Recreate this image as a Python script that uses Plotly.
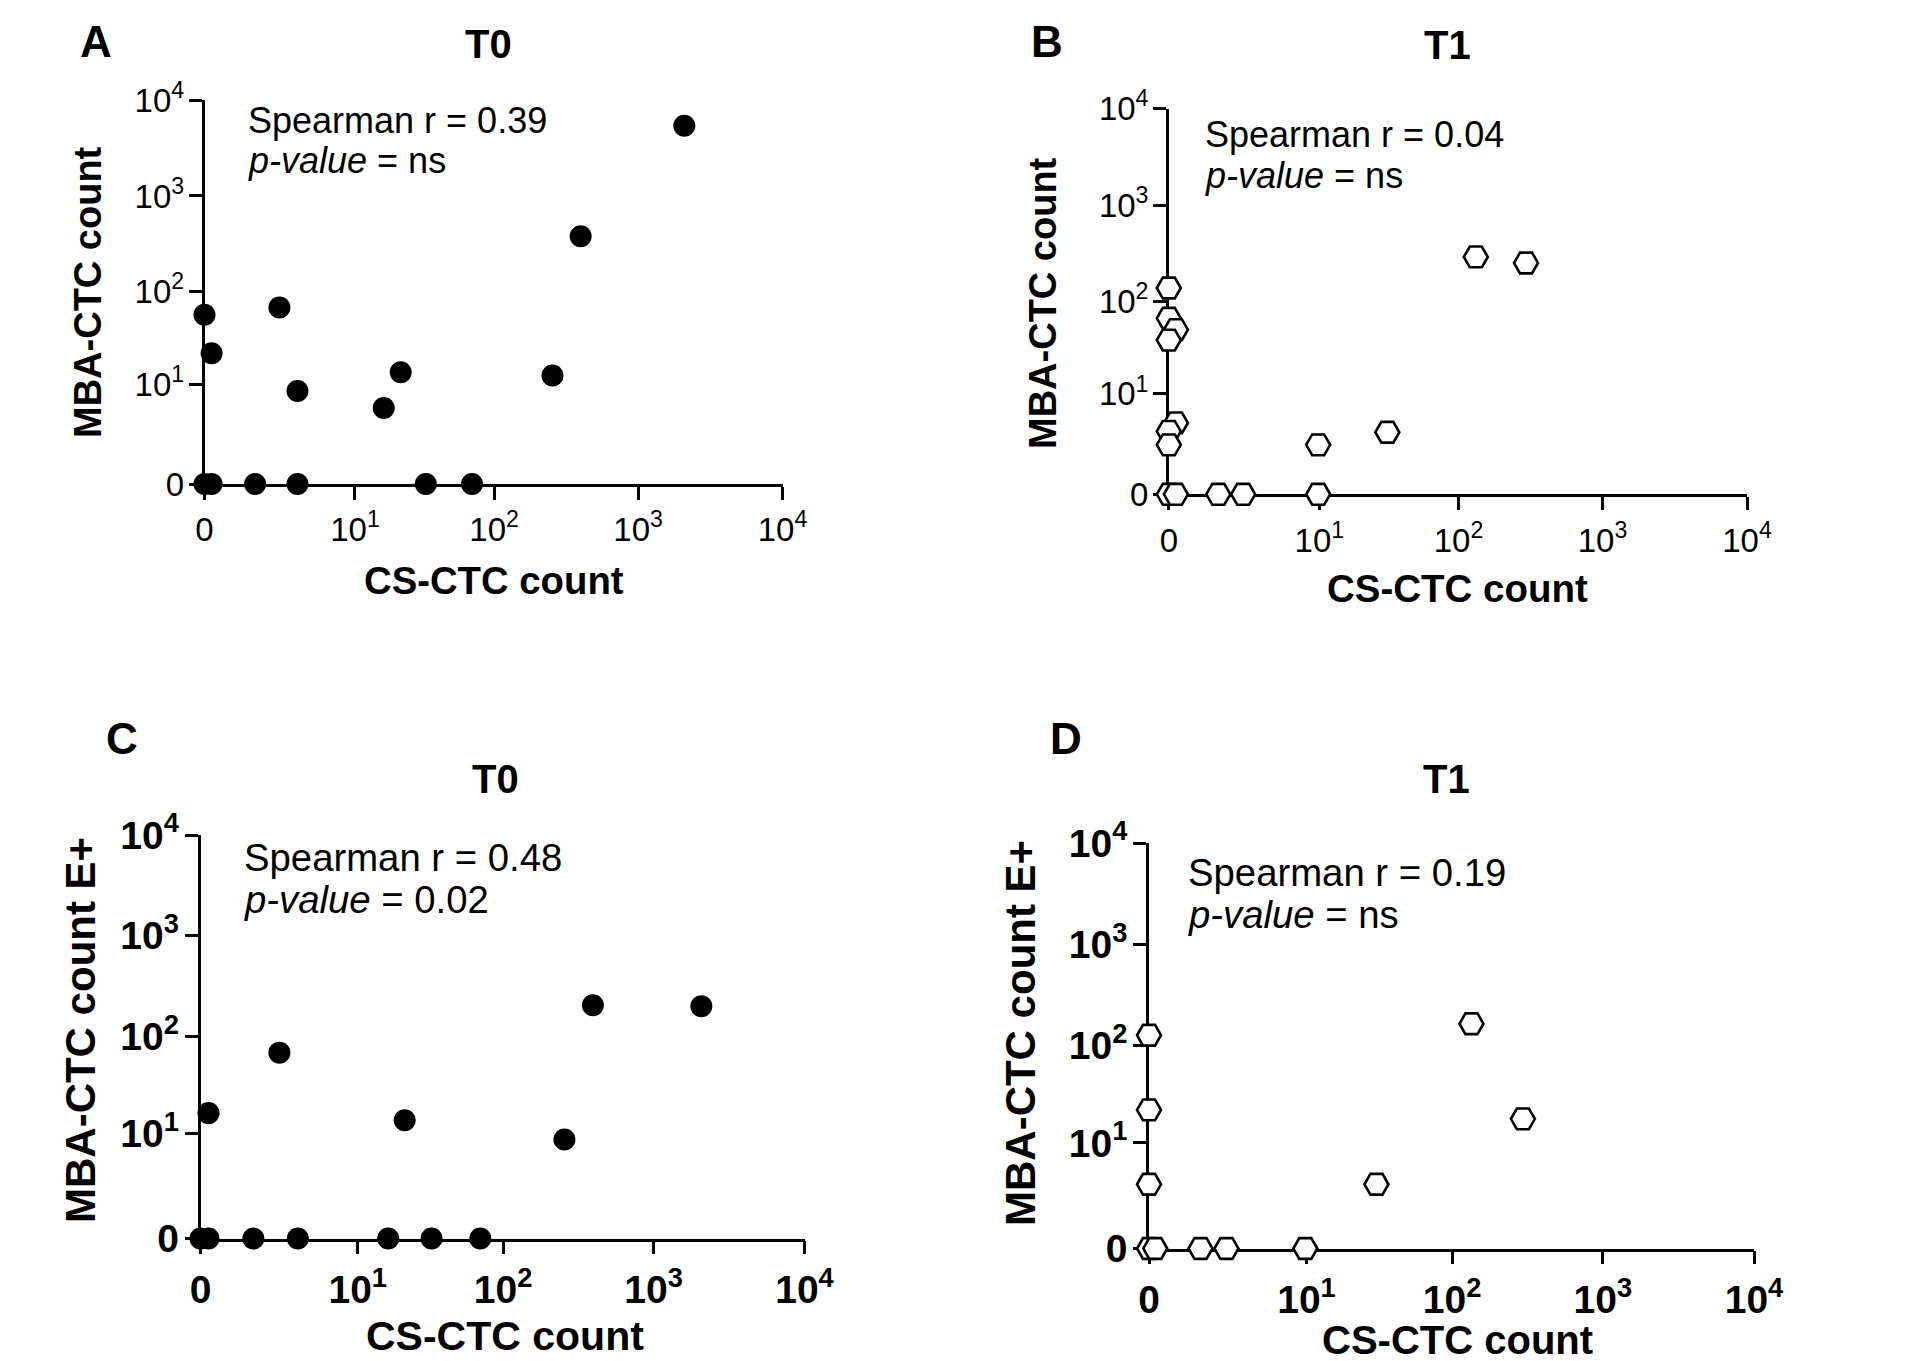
import numpy as np
import plotly.graph_objects as go

W, H = 1909, 1361

# ---------------- data (counts) ----------------
A_cs = [2090, 400, 2.3, 0, 0.12, 3.4, 21.8, 16.4, 255, 0, 0.12, 1.24, 3.4, 33, 70]
A_mba = [5390, 380, 68, 57, 22, 8.3, 13.6, 5.2, 12.5, 0, 0, 0, 0, 0, 0]

B_cs = [132, 295, 0, 0, 0.12, 0, 0.12, 0, 0, 9.8, 31.5, 0, 0.12, 1.2, 2.27, 9.8]
B_mba = [289, 250, 137, 66, 50, 38.8, 4.5, 3.5, 2.26, 2.26, 3.4, 0, 0, 0, 0, 0]

C_cs = [396, 2074, 2.33, 0.13, 21.5, 256, 0, 0.13, 1.24, 3.41, 16.5, 32.9, 70.3]
C_mba = [204, 200, 68.6, 16.5, 13.9, 8.6, 0, 0, 0, 0, 0, 0, 0]

D_cs = [134.5, 295.5, 30.9, 0, 0, 0, 0, 0.1, 1.19, 2.25, 9.8]
D_mba = [163.8, 18, 3.3, 126, 22.3, 3.3, 0, 0, 0, 0, 0]

tick_values = [0, 10, 100, 1000, 10000]
tick_labels = ["0", "10<sup>1</sup>", "10<sup>2</sup>", "10<sup>3</sup>", "10<sup>4</sup>"]

panel_letters = ["A", "B", "C", "D"]
panel_titles = ["T0", "T1", "T0", "T1"]
x_titles = ["CS-CTC count"] * 4
y_titles = ["MBA-CTC count", "MBA-CTC count", "MBA-CTC count E+", "MBA-CTC count E+"]
r_texts = ["Spearman r = 0.39", "Spearman r = 0.04", "Spearman r = 0.48", "Spearman r = 0.19"]
p_texts = ["<i>p-value</i> = ns", "<i>p-value</i> = ns", "<i>p-value</i> = 0.02", "<i>p-value</i> = ns"]


def tr(v):
    # log10(count + 1) axis transform (zero shown on log-like axis)
    return np.log10(np.asarray(v, dtype=float) + 1.0)


FONT = "Arial, Liberation Sans, sans-serif"

# ---------------- layout geometry (pixels) ----------------
# (x0, x1, ytop, ybottom)
boxes = [
    (204.5, 782.5, 100.0, 484.0),
    (1168.8, 1747.0, 108.7, 494.3),
    (200.5, 804.5, 835.0, 1238.5),
    (1149.0, 1754.0, 843.0, 1248.5),
]
letter_pos = [(96, 41), (1047, 41), (122, 739), (1066, 739)]
title_pos = [(488, 44), (1447, 45), (495, 779), (1446, 779)]
xtitle_pos = [(494, 580), (1457, 588), (505, 1336), (1457, 1340)]
ytitle_pos = [(88, 292), (1043, 303), (80, 1030), (1020, 1033)]
ann_pos = [(245.5, 120, 161), (1202.5, 135, 176), (241.5, 857, 899), (1185.5, 873, 914)]

tick_font_size = [33, 33, 39, 39]
tick_bold = [False, False, True, True]
ann_size = [36, 36, 38.3, 38.3]
axtitle_size = [38.3, 38.5, 41, 40]
ytitle_size = [38, 38, 42, 42]

datasets = [(A_cs, A_mba), (B_cs, B_mba), (C_cs, C_mba), (D_cs, D_mba)]
filled = [True, False, True, False]

fig = go.Figure()
layout = dict(
    width=W, height=H,
    margin=dict(l=0, r=0, t=0, b=0, pad=0, autoexpand=False),
    paper_bgcolor="white", plot_bgcolor="white",
    showlegend=False,
    annotations=[],
)

rng = [0, float(tr(10000))]
tvals = [float(v) for v in tr(tick_values)]

for i in range(4):
    x0, x1, yt, yb = boxes[i]
    xa = "xaxis" if i == 0 else f"xaxis{i+1}"
    ya = "yaxis" if i == 0 else f"yaxis{i+1}"
    xr = "x" if i == 0 else f"x{i+1}"
    yr = "y" if i == 0 else f"y{i+1}"
    tf = dict(family=FONT, size=tick_font_size[i], color="black",
              weight="bold" if tick_bold[i] else "normal")
    common = dict(
        range=rng, tickmode="array", tickvals=tvals, ticktext=tick_labels,
        showline=True, linecolor="black", linewidth=2.5,
        ticks="outside", ticklen=13, tickwidth=2.5, tickcolor="black",
        showgrid=False, zeroline=False, tickfont=tf, layer="below traces",
        fixedrange=True, automargin=False,
    )
    layout[xa] = dict(common, domain=[x0 / W, x1 / W], anchor=yr, ticklabelstandoff=2)
    layout[ya] = dict(common, domain=[1 - yb / H, 1 - yt / H], anchor=xr, ticklabelstandoff=-2)

    cs, mba = datasets[i]
    if filled[i]:
        marker = dict(symbol="circle", size=22, color="black",
                      line=dict(color="black", width=0))
    else:
        marker = dict(symbol="hexagon2", size=24, color="white",
                      line=dict(color="black", width=2.6))
    fig.add_trace(go.Scatter(
        x=tr(cs), y=tr(mba), mode="markers", marker=marker,
        xaxis=xr, yaxis=yr, cliponaxis=False, hoverinfo="skip",
    ))

    ann = layout["annotations"]
    lx, ly = letter_pos[i]
    ann.append(dict(text=f"<b>{panel_letters[i]}</b>", x=lx / W, y=1 - ly / H,
                    xref="paper", yref="paper", showarrow=False,
                    xanchor="center", yanchor="middle",
                    font=dict(family=FONT, size=44, color="black")))
    tx, ty = title_pos[i]
    ann.append(dict(text=f"<b>{panel_titles[i]}</b>", x=tx / W, y=1 - ty / H,
                    xref="paper", yref="paper", showarrow=False,
                    xanchor="center", yanchor="middle",
                    font=dict(family=FONT, size=40, color="black")))
    xx, xy = xtitle_pos[i]
    ann.append(dict(text=f"<b>{x_titles[i]}</b>", x=xx / W, y=1 - xy / H,
                    xref="paper", yref="paper", showarrow=False,
                    xanchor="center", yanchor="middle",
                    font=dict(family=FONT, size=axtitle_size[i], color="black")))
    yx, yy = ytitle_pos[i]
    ann.append(dict(text=f"<b>{y_titles[i]}</b>", x=yx / W, y=1 - yy / H,
                    xref="paper", yref="paper", showarrow=False, textangle=-90,
                    xanchor="center", yanchor="middle",
                    font=dict(family=FONT, size=ytitle_size[i], color="black")))
    ax, ay1, ay2 = ann_pos[i]
    ann.append(dict(text=r_texts[i], x=ax / W, y=1 - ay1 / H,
                    xref="paper", yref="paper", showarrow=False,
                    xanchor="left", yanchor="middle",
                    font=dict(family=FONT, size=ann_size[i], color="black")))
    ann.append(dict(text=p_texts[i], x=ax / W, y=1 - ay2 / H,
                    xref="paper", yref="paper", showarrow=False,
                    xanchor="left", yanchor="middle",
                    font=dict(family=FONT, size=ann_size[i], color="black")))

fig.update_layout(**layout)
fig.write_html("out.html")
